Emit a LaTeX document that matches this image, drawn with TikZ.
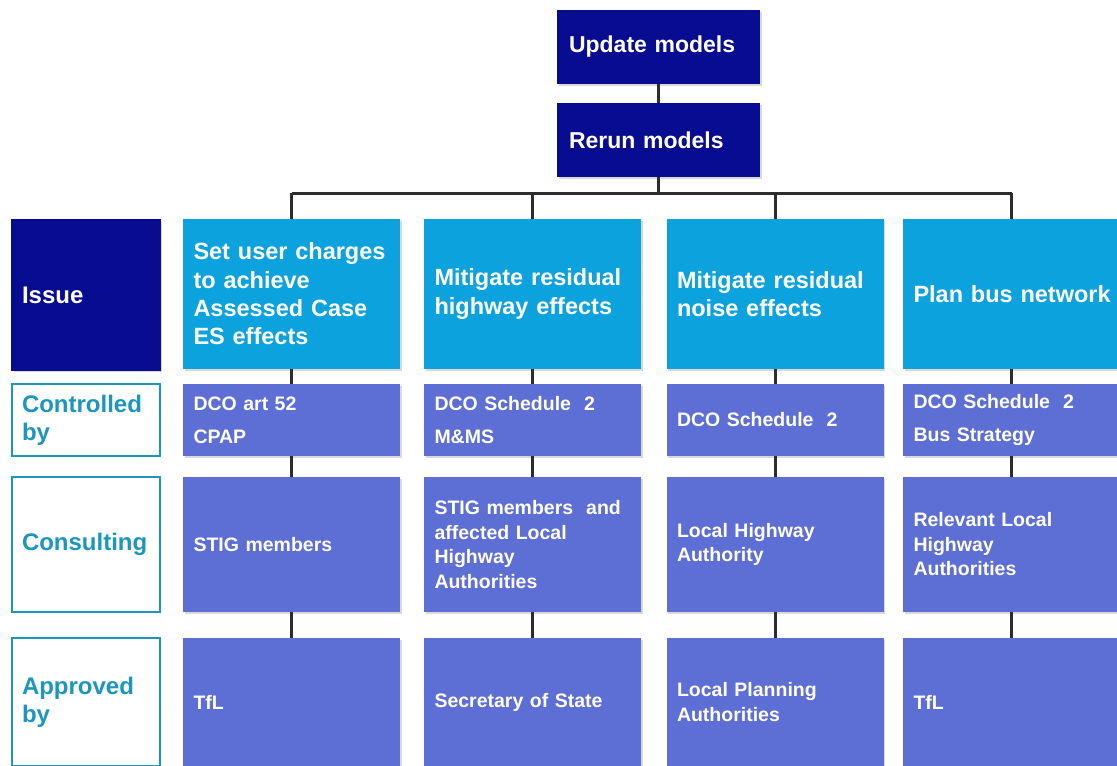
\documentclass[tikz,border=0pt]{standalone}
\usepackage{fontspec}
\setmainfont{Liberation Sans}
\usetikzlibrary{positioning,shadows}

\definecolor{navy}{RGB}{8,12,145}
\definecolor{skyblue}{RGB}{12,162,222}
\definecolor{slate}{RGB}{93,110,212}
\definecolor{labelteal}{RGB}{27,150,190}
\definecolor{wire}{RGB}{45,45,45}

\begin{document}
\begin{tikzpicture}[
x=1pt,y=-1pt,
box/.style={
	rectangle,
	text width=196pt,
	inner xsep=10.5pt,
	inner ysep=0pt,
	align=left,
	text=white,
	drop shadow={shadow xshift=1.5pt,shadow yshift=-1.5pt,opacity=0.3}
},
topbox/.style={
	box,
	fill=navy,
	text width=179pt,
	inner xsep=12pt,
	minimum height=74pt,
	font=\bfseries\fontsize{23}{26}\selectfont
},
issuebox/.style={
	box,
	fill=skyblue,
	minimum height=150pt,
	font=\bfseries\fontsize{23.5}{28.3}\selectfont
},
ctrlbox/.style={
	box,
	fill=slate,
	minimum height=72pt,
	font=\bfseries\fontsize{19.5}{33}\selectfont
},
consbox/.style={
	box,
	fill=slate,
	minimum height=135pt,
	font=\bfseries\fontsize{19.5}{24.5}\selectfont
},
apprbox/.style={
	box,
	fill=slate,
	minimum height=128pt,
	font=\bfseries\fontsize{19.5}{25}\selectfont
},
rowlabel/.style={
	rectangle,
	draw=labelteal,
	line width=2pt,
	fill=white,
	text=labelteal,
	text width=128pt,
	inner xsep=10pt,
	inner ysep=0pt,
	align=left,
	font=\bfseries\fontsize{24}{28}\selectfont
},
link/.style={
	draw=wire,
	line width=3pt
}
]
\clip (0,0) rectangle (1117,766);

% models
\node[topbox] (upd) at (658.5,47) {Update models};
\node[topbox] (rer) at (658.5,140) {Rerun models};

% row labels
\node[rowlabel,fill=navy,draw=navy,text=white,minimum height=150pt,drop shadow={shadow xshift=1.5pt,shadow yshift=-1.5pt,opacity=0.3}] (lIssue) at (86,295) {Issue};
\node[rowlabel,minimum height=72pt] (lCtrl) at (86,420) {Controlled\\by};
\node[rowlabel,minimum height=135pt] (lCons) at (86,544.5) {Consulting};
\node[rowlabel,minimum height=128pt] (lAppr) at (86,702) {Approved\\by};

% issues
\foreach \n/\x/\t in {1/291.5/{Set user charges\\to achieve\\Assessed Case\\ES effects},
	2/532.5/{Mitigate residual\\highway effects},
	3/775/{Mitigate residual\\noise effects},
	4/1011.5/{\mbox{Plan bus network}}}
\node[issuebox] (i\n) at (\x,294) {\t};

% controlled by
\foreach \n/\x/\t in {1/291.5/{DCO art 52\\CPAP},
	2/532.5/{DCO Schedule~ 2\\M\&MS},
	3/775/{DCO Schedule~ 2},
	4/1011.5/{DCO Schedule~ 2\\Bus Strategy}}
\node[ctrlbox] (c\n) at (\x,420) {\t};

% consulting
\foreach \n/\x/\t in {1/291.5/{STIG members},
	2/532.5/{STIG members~ and\\affected Local\\Highway\\Authorities},
	3/775/{Local Highway\\Authority},
	4/1011.5/{Relevant Local\\Highway\\Authorities}}
\node[consbox] (k\n) at (\x,544.5) {\t};

% approved by
\foreach \n/\x/\t in {1/291.5/{TfL},
	2/532.5/{Secretary of State},
	3/775/{Local Planning\\Authorities},
	4/1011.5/{TfL}}
\node[apprbox] (p\n) at (\x,702) {\t};

% connectors
\coordinate (bus) at (658.5,193);
\draw[link] (upd.south) -- (rer.north);
\draw[link] (rer.south) -- (bus);
\draw[link] (bus -| i1.north) -- (bus -| i4.north);
\foreach \n in {1,...,4} {
	\draw[link] (bus -| i\n.north) -- (i\n.north);
	\draw[link] (i\n.south) -- (c\n.north);
	\draw[link] (c\n.south) -- (k\n.north);
	\draw[link] (k\n.south) -- (p\n.north);
}
\end{tikzpicture}
\end{document}
